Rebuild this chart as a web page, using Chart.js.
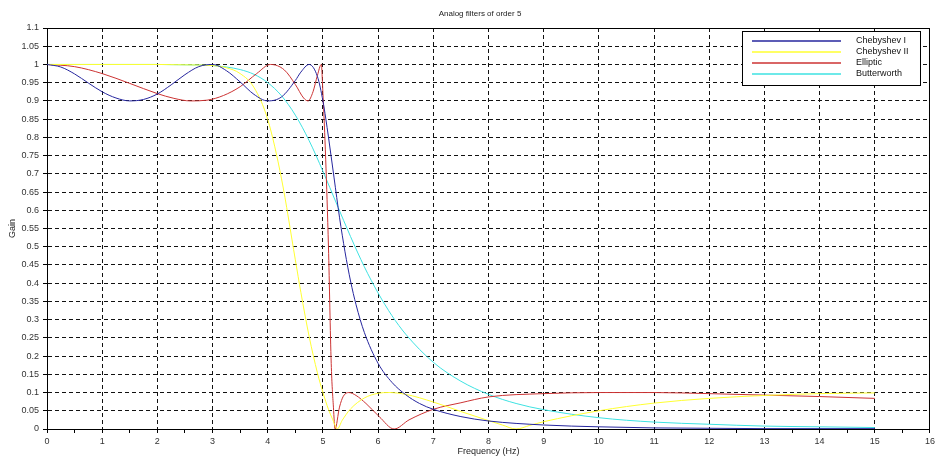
<!DOCTYPE html>
<html>
<head>
<meta charset="utf-8">
<title>Analog filters of order 5</title>
<script src="https://cdn.jsdelivr.net/npm/chart.js@4/dist/chart.umd.min.js"></script>
<style>
  html, body { margin: 0; padding: 0; background: #fff; }
  canvas { display: block; }
</style>
</head>
<body>
<canvas id="filters" width="938" height="462"></canvas>
<script>
// values
const freqTicks = [0, 1, 2, 3, 4, 5, 6, 7, 8, 9, 10, 11, 12, 13, 14, 15, 16];
const gainTicks = [0, 0.05, 0.1, 0.15, 0.2, 0.25, 0.3, 0.35, 0.4, 0.45, 0.5, 0.55,
  0.6, 0.65, 0.7, 0.75, 0.8, 0.85, 0.9, 0.95, 1, 1.05, 1.1];

const seriesNames = ["Chebyshev I", "Chebyshev II", "Elliptic", "Butterworth"];

const cheby1Freq = [0, 0.25, 0.5, 0.75, 1, 1.25, 1.5, 1.75, 2, 2.25, 2.5, 2.75, 3, 3.25, 3.5,
  3.75, 4, 4.25, 4.5, 4.6, 4.75, 4.9, 5, 5.05, 5.1, 5.2, 5.3, 5.4, 5.5, 5.6, 5.75, 6, 6.25,
  6.5, 6.75, 7, 7.5, 8, 9, 10, 11, 12, 13, 14, 15];
const cheby1Gain = [1, 0.993, 0.974, 0.949, 0.925, 0.908, 0.9, 0.904, 0.919, 0.944, 0.972,
  0.994, 1, 0.983, 0.952, 0.918, 0.9, 0.911, 0.956, 0.979, 1, 0.967, 0.9, 0.853, 0.801,
  0.691, 0.581, 0.486, 0.406, 0.341, 0.265, 0.18, 0.128, 0.094, 0.07, 0.054, 0.034, 0.022,
  0.011, 0.006, 0.003, 0.002, 0.001, 0.001, 0.001];

const cheby2Freq = [0, 1, 2, 2.5, 3, 3.25, 3.5, 3.75, 4, 4.25, 4.5, 4.6, 4.75, 4.9, 5, 5.1,
  5.18, 5.26, 5.35, 5.5, 5.75, 6, 6.2, 6.5, 7, 7.5, 8, 8.25, 8.5, 8.75, 9, 10, 11, 12, 13,
  14, 15];
const cheby2Gain = [1, 1, 1, 0.999, 0.997, 0.991, 0.975, 0.937, 0.849, 0.686, 0.464, 0.375,
  0.254, 0.154, 0.1, 0.054, 0.025, 0, 0.024, 0.055, 0.085, 0.098, 0.1, 0.095, 0.074, 0.048,
  0.023, 0.011, 0, 0.01, 0.02, 0.05, 0.071, 0.084, 0.092, 0.097, 0.099];

const ellipFreq = [0, 0.5, 1, 1.5, 2, 2.3, 2.6, 2.9, 3.2, 3.5, 3.8, 4.05, 4.3, 4.5, 4.65,
  4.73, 4.82, 4.9, 4.97, 5, 5.05, 5.1, 5.15, 5.19, 5.22, 5.3, 5.37, 5.47, 5.6, 5.78, 6.02,
  6.29, 6.56, 7, 7.5, 8, 9, 10, 11, 12, 13, 14, 15];
const ellipGain = [1, 0.994, 0.975, 0.948, 0.92, 0.907, 0.9, 0.902, 0.915, 0.939, 0.975, 1,
  0.985, 0.945, 0.908, 0.9, 0.925, 0.97, 1, 0.92, 0.74, 0.5, 0.18, 0.06, 0, 0.06, 0.09,
  0.1, 0.092, 0.07, 0.034, 0, 0.025, 0.054, 0.072, 0.088, 0.097, 0.1, 0.1, 0.097, 0.093,
  0.089, 0.084];

const butterFreq = [0, 1, 2, 2.5, 3, 3.25, 3.5, 3.75, 4, 4.25, 4.5, 4.75, 5, 5.25, 5.5, 5.75,
  6, 6.25, 6.5, 7, 7.5, 8, 8.5, 9, 10, 11, 12, 13, 14, 15];
const butterGain = [1, 1, 1, 0.999, 0.997, 0.993, 0.986, 0.973, 0.95, 0.914, 0.861, 0.791,
  0.707, 0.617, 0.528, 0.445, 0.373, 0.311, 0.26, 0.183, 0.131, 0.095, 0.07, 0.053, 0.031,
  0.019, 0.013, 0.008, 0.006, 0.004];

const lineColors = ["#26269e", "#ffff30", "#cc3333", "#3ee2e2"];
const font = "\"Liberation Sans\", Arial, sans-serif";

const toPoints = (xs, ys) => xs.map((x, i) => ({ x: x, y: ys[i] }));

const series = [
  toPoints(cheby1Freq, cheby1Gain),
  toPoints(cheby2Freq, cheby2Gain),
  toPoints(ellipFreq, ellipGain),
  toPoints(butterFreq, butterGain)
];

// frame, title and the boxed legend, drawn the way scilab does it
const scilabDecor = {
  id: "scilabDecor",
  afterDatasetsDraw(chart) {
    const { ctx, chartArea } = chart;
    ctx.save();
    ctx.strokeStyle = "#000";
    ctx.lineWidth = 1;
    ctx.beginPath();
    ctx.moveTo(chartArea.left, chartArea.top + 0.5);
    ctx.lineTo(chartArea.right - 0.5, chartArea.top + 0.5);
    ctx.lineTo(chartArea.right - 0.5, chartArea.bottom);
    ctx.stroke();

    ctx.fillStyle = "#222";
    ctx.font = "8px " + font;
    ctx.textAlign = "center";
    ctx.textBaseline = "middle";
    ctx.fillText("Analog filters of order 5", 480, 14);

    const w = 178;
    const h = 54;
    const left = chartArea.right - 10 - w;
    const top = chartArea.top + 3;
    ctx.fillStyle = "#fff";
    ctx.fillRect(left, top, w, h);
    ctx.strokeStyle = "#000";
    ctx.strokeRect(left + 0.5, top + 0.5, w, h);
    ctx.font = "9px " + font;
    ctx.textAlign = "left";
    chart.data.datasets.forEach((ds, i) => {
      const y = top + 10 + i * 11;
      ctx.strokeStyle = ds.borderColor;
      ctx.lineWidth = 1.3;
      ctx.beginPath();
      ctx.moveTo(left + 10, y);
      ctx.lineTo(left + 99, y);
      ctx.stroke();
      ctx.fillStyle = "#111";
      ctx.fillText(ds.label, left + 114, y);
    });
    ctx.restore();
  }
};

const ctx = document.getElementById("filters");
const filterChart = new Chart(ctx, {
  type: "line",
  data: {
    datasets: series.map((pts, i) => ({
      label: seriesNames[i],
      data: pts,
      borderColor: lineColors[i],
      borderWidth: 1,
      pointRadius: 0,
      fill: false,
      cubicInterpolationMode: "monotone"
    }))
  },
  options: {
    responsive: false,
    animation: false,
    layout: { padding: { top: 28, right: 6, left: 0, bottom: 0 } },
    plugins: {
      legend: { display: false },
      title: { display: false },
      tooltip: { enabled: false }
    },
    scales: {
      x: {
        type: "linear",
        min: 0,
        max: 16,
        afterBuildTicks: (scale) => {
          const ticks = [];
          freqTicks.forEach((v) => {
            ticks.push({ value: v });
            if (v < 16) ticks.push({ value: v + 0.5 });
          });
          scale.ticks = ticks;
        },
        afterFit: (scale) => { scale.height = 33; },
        ticks: {
          autoSkip: false,
          maxRotation: 0,
          padding: 3,
          color: "#333",
          font: { family: font, size: 9 },
          callback: (v) => (Number.isInteger(v) ? String(v) : "")
        },
        grid: {
          color: (c) => (Number.isInteger(c.tick.value) ? "#111" : "rgba(0,0,0,0)"),
          tickColor: "#000",
          tickLength: 4,
          tickBorderDash: []
        },
        border: { display: true, color: "#000", width: 1, dash: [4, 3] },
        title: {
          display: true,
          text: "Frequency (Hz)",
          color: "#222",
          font: { family: font, size: 9 },
          padding: { top: 4, bottom: 5 }
        }
      },
      y: {
        type: "linear",
        min: 0,
        max: 1.1,
        afterBuildTicks: (scale) => {
          scale.ticks = gainTicks.map((v) => ({ value: v }));
        },
        afterFit: (scale) => { scale.width = 47; },
        ticks: {
          autoSkip: false,
          padding: 4,
          color: "#333",
          font: { family: font, size: 9 },
          callback: (v) => String(v)
        },
        grid: {
          color: "#111",
          tickColor: "#000",
          tickLength: 4,
          tickBorderDash: []
        },
        border: { display: true, color: "#000", width: 1, dash: [4, 3] },
        title: {
          display: true,
          text: "Gain",
          color: "#222",
          font: { family: font, size: 9 },
          padding: { top: 7, bottom: 0 }
        }
      }
    }
  },
  plugins: [scilabDecor]
});
</script>
</body>
</html>
